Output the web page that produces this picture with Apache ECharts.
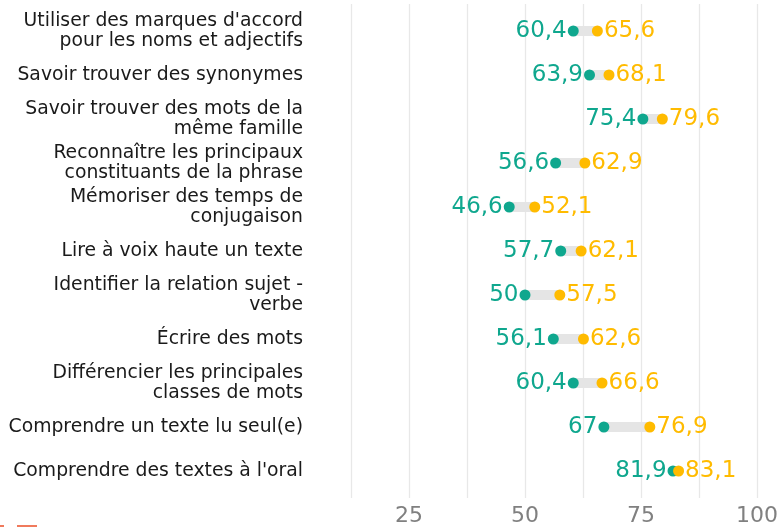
<!DOCTYPE html>
<html>
<head>
<meta charset="utf-8">
<script src="https://cdn.jsdelivr.net/npm/echarts@6/dist/echarts.min.js"></script>
<style>
  html, body { margin: 0; padding: 0; background: #fff; }
  #main { width: 781px; height: 527px; }
</style>
</head>
<body>
<div id="main"></div>
<script>
var categories = [
    "Utiliser des marques d'accord\npour les noms et adjectifs",
    "Savoir trouver des synonymes",
    "Savoir trouver des mots de la\nmême famille",
    "Reconnaître les principaux\nconstituants de la phrase",
    "Mémoriser des temps de\nconjugaison",
    "Lire à voix haute un texte",
    "Identifier la relation sujet -\nverbe",
    "Écrire des mots",
    "Différencier les principales\nclasses de mots",
    "Comprendre un texte lu seul(e)",
    "Comprendre des textes à l'oral"
];
var valuesTeal = [60.4, 63.9, 75.4, 56.6, 46.6, 57.7, 50, 56.1, 60.4, 67, 81.9];
var valuesOrange = [65.6, 68.1, 79.6, 62.9, 52.1, 62.1, 57.5, 62.6, 66.6, 76.9, 83.1];
var tickLabels = [25, 50, 75, 100];

var teal = '#0fa78e';
var orange = '#ffbb00';
var font = 'DejaVu Sans';

function frNum(v) {
    return String(v).replace('.', ',');
}

var segData = categories.map(function (c, i) {
    return [valuesTeal[i], valuesOrange[i], i];
});

var option = {
    animation: false,
    grid: [
        // donnees
        {left: 351, right: 24, top: 9, bottom: 34},
        // grille de fond (ggplot expand 0.6)
        {left: 351, right: 24, top: 4, bottom: 29}
    ],
    xAxis: [
        {
            gridIndex: 0,
            type: 'value',
            min: 12.5,
            max: 100,
            interval: 12.5,
            axisLine: {show: false},
            axisTick: {show: false},
            axisLabel: {show: false},
            splitLine: {show: false}
        },
        {
            gridIndex: 1,
            type: 'value',
            min: 12.5,
            max: 100,
            interval: 12.5,
            axisLine: {show: false},
            axisTick: {show: false},
            axisLabel: {
                margin: 7,
                color: '#808080',
                fontFamily: font,
                fontSize: 22,
                formatter: function (v) {
                    return tickLabels.indexOf(v) >= 0 ? String(v) : '';
                }
            },
            splitLine: {show: true, lineStyle: {color: '#e8e8e8', width: 1.3}}
        }
    ],
    yAxis: [
        {
            gridIndex: 0,
            type: 'category',
            inverse: true,
            data: categories,
            axisLine: {show: false},
            axisTick: {show: false},
            splitLine: {show: false},
            axisLabel: {
                margin: 48,
                color: '#1a1a1a',
                fontFamily: font,
                fontSize: 18.8,
                lineHeight: 20,
                align: 'right'
            }
        },
        {
            gridIndex: 1,
            type: 'value',
            show: false,
            min: 0,
            max: 1
        }
    ],
    series: [
        {
            type: 'custom',
            xAxisIndex: 0,
            yAxisIndex: 0,
            data: segData,
            encode: {x: [0, 1], y: 2},
            renderItem: function (params, api) {
                var p1 = api.coord([api.value(0), api.value(2)]);
                var p2 = api.coord([api.value(1), api.value(2)]);
                return {
                    type: 'line',
                    shape: {x1: p1[0], y1: p1[1], x2: p2[0], y2: p2[1]},
                    style: {stroke: '#e5e5e5', lineWidth: 10}
                };
            },
            z: 1
        },
        {
            type: 'scatter',
            xAxisIndex: 0,
            yAxisIndex: 0,
            symbolSize: 11,
            itemStyle: {color: teal, opacity: 1},
            data: valuesTeal.map(function (v, i) { return [v, i]; }),
            label: {
                show: true,
                position: 'left',
                distance: 1,
                color: teal,
                fontFamily: font,
                fontSize: 23,
                formatter: function (p) { return frNum(p.value[0]); }
            },
            z: 2
        },
        {
            type: 'scatter',
            xAxisIndex: 0,
            yAxisIndex: 0,
            symbolSize: 11,
            itemStyle: {color: orange, opacity: 1},
            data: valuesOrange.map(function (v, i) { return [v, i]; }),
            label: {
                show: true,
                position: 'right',
                distance: 1,
                color: orange,
                fontFamily: font,
                fontSize: 23,
                formatter: function (p) { return frNum(p.value[0]); }
            },
            z: 3
        }
    ],
    graphic: [
        // bout de logo coupe en bas a gauche
        {type: 'rect', shape: {x: 0, y: 525, width: 4, height: 2}, style: {fill: '#f07a5c'}},
        {type: 'rect', shape: {x: 17, y: 525, width: 20, height: 2}, style: {fill: '#f07a5c'}}
    ]
};

var myChart = echarts.init(document.getElementById('main'));
myChart.setOption(option);
</script>
</body>
</html>
